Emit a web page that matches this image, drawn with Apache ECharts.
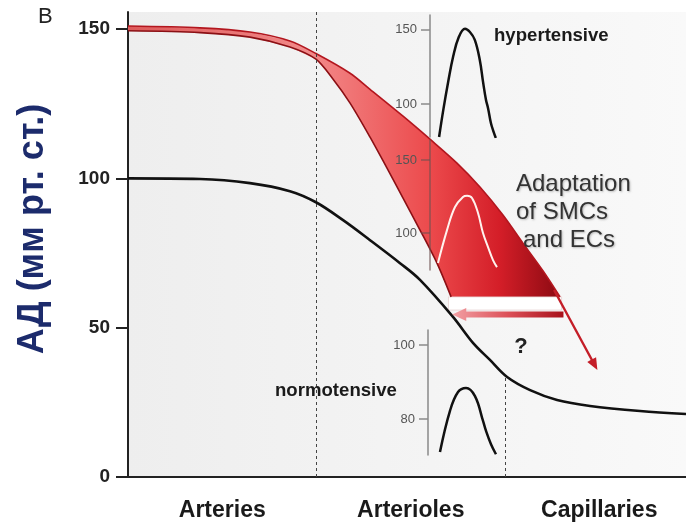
<!DOCTYPE html>
<html><head><meta charset="utf-8">
<script src="https://cdn.jsdelivr.net/npm/echarts@6/dist/echarts.min.js"></script>
<style>html,body{margin:0;padding:0;background:#fff}#c{width:686px;height:528px}</style>
</head><body><div id="c"></div>
<script>
// ---- data ----
const categories = ['Arteries', 'Arterioles', 'Capillaries'];
const categoryPos = [0.5, 1.5, 2.5];
const yTicks = [0, 50, 100, 150];
const dividers = [1, 2];
const dividerTop = [155.7, 34];

const normoX = [0, 0.382, 0.647, 0.859, 0.997, 1.141, 1.284, 1.443, 1.549, 1.724, 1.830, 1.920, 2.011, 2.133, 2.276, 2.451, 2.716, 2.96];
const normoY = [100, 99.8, 98.4, 95.7, 92.0, 86.0, 79.3, 71.6, 66.0, 53.6, 44.9, 39.2, 33.5, 29.1, 25.8, 23.8, 22.1, 21.1];

const hyperUpperX = [0, 0.382, 0.647, 0.859, 0.997, 1.178, 1.284, 1.459, 1.602, 1.745, 1.867, 1.989, 2.095, 2.202, 2.292];
const hyperUpperY = [151, 150.4, 149.0, 146.0, 141.8, 135.2, 129.8, 120.8, 113.1, 105.1, 97.1, 87.7, 78.3, 69.0, 60.3];
const hyperLowerX = [0, 0.382, 0.647, 0.859, 0.997, 1.088, 1.178, 1.284, 1.374, 1.459, 1.549, 1.639, 1.714];
const hyperLowerY = [149.4, 148.8, 147.3, 144.0, 139.9, 133.2, 125.2, 113.8, 103.4, 93.4, 82.7, 71.6, 60.3];

const whiteBarX = [1.70, 2.30];
const whiteBarY = [55.9, 60.3];
const returnArrowX = [2.31, 1.72];
const returnArrowY = [54.4, 54.4];
const adaptArrowX = [2.26, 2.49];
const adaptArrowY = [62.6, 35.8];

// inset waveforms (normalised time, mmHg)
const hyperWaveT = [0.13, 0.19, 0.26, 0.33, 0.41, 0.5, 0.57, 0.64, 0.71, 0.76, 0.8, 0.83, 0.87, 0.91, 0.94];
const hyperWaveP = [77.7, 96, 115, 131.8, 145, 150.7, 148.5, 143.2, 130, 114.2, 102.7, 97, 87.2, 81, 77];
const adaptWaveT = [0.114, 0.243, 0.357, 0.471, 0.53, 0.6, 0.686, 0.757, 0.829, 0.9, 0.957];
const adaptWaveP = [79.5, 102, 117.8, 124.7, 125.5, 124, 113.7, 100, 90.4, 81.5, 76.7];
const normoWaveT = [0.171, 0.314, 0.429, 0.543, 0.671, 0.786, 0.829, 0.9, 0.971];
const normoWaveP = [71.1, 82.2, 87.3, 88.4, 86.2, 79.5, 76.8, 73.2, 70.5];
const hyperInsetTicks = [100, 150];
const adaptInsetTicks = [100, 150];
const normoInsetTicks = [80, 100];

// ---- helpers ----
const FONT = "'Liberation Sans', Arial, Helvetica, sans-serif";
const zip = (a, b) => a.map((v, i) => [v, b[i]]);
const G = echarts.graphic;

function arrowItem(xs, ys, o) {
  return function (params, api) {
    const a = api.coord([xs[0], ys[0]]), b = api.coord([xs[1], ys[1]]);
    const dx = b[0] - a[0], dy = b[1] - a[1], len = Math.hypot(dx, dy);
    const ux = dx / len, uy = dy / len, nx = -uy, ny = ux;
    const base = [b[0] - ux * o.headLen, b[1] - uy * o.headLen];
    const bw = o.bodyWidth / 2, hw = o.headWidth / 2;
    const pts = [
      [a[0] + nx * bw, a[1] + ny * bw],
      [base[0] + nx * bw, base[1] + ny * bw],
      [base[0] + nx * hw, base[1] + ny * hw],
      b,
      [base[0] - nx * hw, base[1] - ny * hw],
      [base[0] - nx * bw, base[1] - ny * bw],
      [a[0] - nx * bw, a[1] - ny * bw]
    ];
    return { type: 'polygon', shape: { points: pts }, style: { fill: o.fill } };
  };
}

function insetY(grid, min, max, ticks) {
  const c = grid === 2 ? 'rgba(110,80,80,0.7)' : '#8a8a8a';
  return {
    gridIndex: grid, type: 'value', min: min, max: max, z: 5,
    axisLine: { show: true, lineStyle: { color: c, width: 1.5 } },
    axisTick: { show: true, customValues: ticks, length: 9, lineStyle: { color: c, width: 1.5 } },
    axisLabel: { customValues: ticks, fontSize: 13, color: '#555', margin: 13, fontFamily: FONT },
    splitLine: { show: false }
  };
}
function insetX(grid) {
  return { gridIndex: grid, type: 'value', min: 0, max: 1, show: false };
}

const chart = echarts.init(document.getElementById('c'), null, { renderer: 'canvas' });
const option = {
  animation: false,
  backgroundColor: '#ffffff',
  grid: [
    { left: 128, top: 12, right: 0, bottom: 51, show: true, borderWidth: 0,
      backgroundColor: new G.LinearGradient(0, 0, 1, 0, [{ offset: 0, color: '#eeeeee' }, { offset: 1, color: '#f9f9f9' }]) },
    { left: 430, top: 15, width: 70, height: 122 },
    { left: 430, top: 140, width: 70, height: 130 },
    { left: 428, top: 330, width: 70, height: 125 }
  ],
  xAxis: [
    { gridIndex: 0, type: 'value', min: 0, max: 2.96,
      axisLine: { lineStyle: { color: '#222', width: 2 } },
      axisTick: { show: false }, splitLine: { show: false },
      axisLabel: { customValues: categoryPos, margin: 22, fontSize: 23, fontWeight: 'bold', color: '#1a1a1a', fontFamily: FONT,
        formatter: v => { const i = categoryPos.findIndex(p => Math.abs(p - v) < 1e-6); return i >= 0 ? categories[i] : ''; } } },
    insetX(1), insetX(2), insetX(3)
  ],
  yAxis: [
    { gridIndex: 0, type: 'value', min: 0, max: 155.7,
      axisLine: { show: true, lineStyle: { color: '#222', width: 2 } },
      axisTick: { show: true, customValues: yTicks, length: 12, lineStyle: { color: '#222', width: 2 } },
      axisLabel: { customValues: yTicks, margin: 18, fontSize: 19, fontWeight: 'bold', color: '#222', fontFamily: FONT },
      splitLine: { show: false } },
    insetY(1, 77.7, 160, hyperInsetTicks),
    insetY(2, 74.7, 163.7, adaptInsetTicks),
    insetY(3, 70.3, 104.05, normoInsetTicks)
  ],
  series: [
    { type: 'custom', coordinateSystem: 'cartesian2d', xAxisIndex: 0, yAxisIndex: 0, z: 2, silent: true,
      data: [[0, 0]],
      renderItem: function (params, api) {
        const pts = zip(hyperUpperX, hyperUpperY).map(p => api.coord(p))
          .concat(zip(hyperLowerX, hyperLowerY).reverse().map(p => api.coord(p)));
        return { type: 'polygon', shape: { points: pts },
          style: { fill: new G.LinearGradient(0, 0, 1, 0, [
            { offset: 0, color: '#dd5a5a' }, { offset: 0.42, color: '#f28a8a' },
            { offset: 0.7, color: '#ec4a4c' }, { offset: 0.86, color: '#d41e28' }, { offset: 1, color: '#8c0a12' }]) } };
      } },
    { type: 'custom', coordinateSystem: 'cartesian2d', xAxisIndex: 0, yAxisIndex: 0, z: 3, silent: true,
      data: [[0, 0]],
      renderItem: function (params, api) {
        const a = api.coord([whiteBarX[0], whiteBarY[1]]), b = api.coord([whiteBarX[1], whiteBarY[0]]);
        return { type: 'rect', shape: { x: a[0], y: a[1], width: b[0] - a[0], height: b[1] - a[1] },
          style: { fill: '#ffffff', stroke: '#e6d0d0', lineWidth: 0.8 } };
      } },
    { type: 'line', xAxisIndex: 0, yAxisIndex: 0, z: 4, smooth: 0.3, symbol: 'none', silent: true,
      data: zip(hyperUpperX, hyperUpperY), lineStyle: { color: '#b3161e', width: 1.6 } },
    { type: 'line', xAxisIndex: 0, yAxisIndex: 0, z: 4, smooth: 0.3, symbol: 'none', silent: true,
      data: zip(hyperLowerX, hyperLowerY), lineStyle: { color: '#8b1015', width: 1.6 } },
    { type: 'line', xAxisIndex: 0, yAxisIndex: 0, z: 5, smooth: 0.35, symbol: 'none', silent: true,
      data: zip(normoX, normoY), lineStyle: { color: '#111', width: 2.6 },
      markLine: { silent: true, symbol: ['none', 'none'], label: { show: false },
        lineStyle: { type: [3, 3], color: '#444', width: 1 },
        data: dividers.map((d, i) => [{ coord: [d, 0] }, { coord: [d, dividerTop[i]] }]) } },
    { type: 'custom', coordinateSystem: 'cartesian2d', xAxisIndex: 0, yAxisIndex: 0, z: 6, silent: true,
      data: [[0, 0]],
      renderItem: arrowItem(returnArrowX, returnArrowY, { headLen: 14, headWidth: 13, bodyWidth: 6,
        fill: new G.LinearGradient(0, 0, 1, 0, [{ offset: 0, color: '#f2a0a4' }, { offset: 0.5, color: '#dc5058' }, { offset: 1, color: '#a8101a' }]) }) },
    { type: 'custom', coordinateSystem: 'cartesian2d', xAxisIndex: 0, yAxisIndex: 0, z: 6, silent: true,
      data: [[0, 0]],
      renderItem: arrowItem(adaptArrowX, adaptArrowY, { headLen: 12, headWidth: 10, bodyWidth: 2.4, fill: '#c41e28' }) },
    { type: 'line', xAxisIndex: 1, yAxisIndex: 1, z: 7, smooth: 0.4, symbol: 'none', silent: true,
      data: zip(hyperWaveT, hyperWaveP), lineStyle: { color: '#111', width: 2.5 } },
    { type: 'line', xAxisIndex: 2, yAxisIndex: 2, z: 7, smooth: 0.4, symbol: 'none', silent: true,
      data: zip(adaptWaveT, adaptWaveP), lineStyle: { color: '#fff2ee', width: 2 } },
    { type: 'line', xAxisIndex: 3, yAxisIndex: 3, z: 7, smooth: 0.4, symbol: 'none', silent: true,
      data: zip(normoWaveT, normoWaveP), lineStyle: { color: '#111', width: 2.5 } }
  ],
  graphic: [
    { type: 'text', x: 38, y: 17, z: 10, style: { text: 'B', font: '22px ' + FONT, fill: '#222', align: 'left', verticalAlign: 'middle' } },
    { type: 'text', x: 33, y: 229, rotation: Math.PI / 2, z: 10,
      style: { text: 'АД (мм рт. ст.)', font: 'bold 36px ' + FONT, fill: '#1c2b6c', align: 'center', verticalAlign: 'middle' } },
    { type: 'text', x: 494, y: 36, z: 10, style: { text: 'hypertensive', font: 'bold 18.6px ' + FONT, fill: '#1a1a1a', align: 'left', verticalAlign: 'middle' } },
    { type: 'text', x: 275, y: 391, z: 10, style: { text: 'normotensive', font: 'bold 18.6px ' + FONT, fill: '#1a1a1a', align: 'left', verticalAlign: 'middle' } },
    { type: 'text', x: 516, y: 184, z: 10, style: { text: 'Adaptation', font: '24px ' + FONT, fill: '#333', align: 'left', verticalAlign: 'middle', textShadowColor: 'rgba(0,0,0,0.25)', textShadowBlur: 2, textShadowOffsetX: 1, textShadowOffsetY: 1 } },
    { type: 'text', x: 516, y: 212, z: 10, style: { text: 'of SMCs', font: '24px ' + FONT, fill: '#333', align: 'left', verticalAlign: 'middle', textShadowColor: 'rgba(0,0,0,0.25)', textShadowBlur: 2, textShadowOffsetX: 1, textShadowOffsetY: 1 } },
    { type: 'text', x: 523, y: 240, z: 10, style: { text: 'and ECs', font: '24px ' + FONT, fill: '#333', align: 'left', verticalAlign: 'middle', textShadowColor: 'rgba(0,0,0,0.25)', textShadowBlur: 2, textShadowOffsetX: 1, textShadowOffsetY: 1 } },
    { type: 'text', x: 521, y: 347, z: 10, style: { text: '?', font: 'bold 22px ' + FONT, fill: '#222', align: 'center', verticalAlign: 'middle' } }
  ]
};
chart.setOption(option);
</script>
</body></html>
